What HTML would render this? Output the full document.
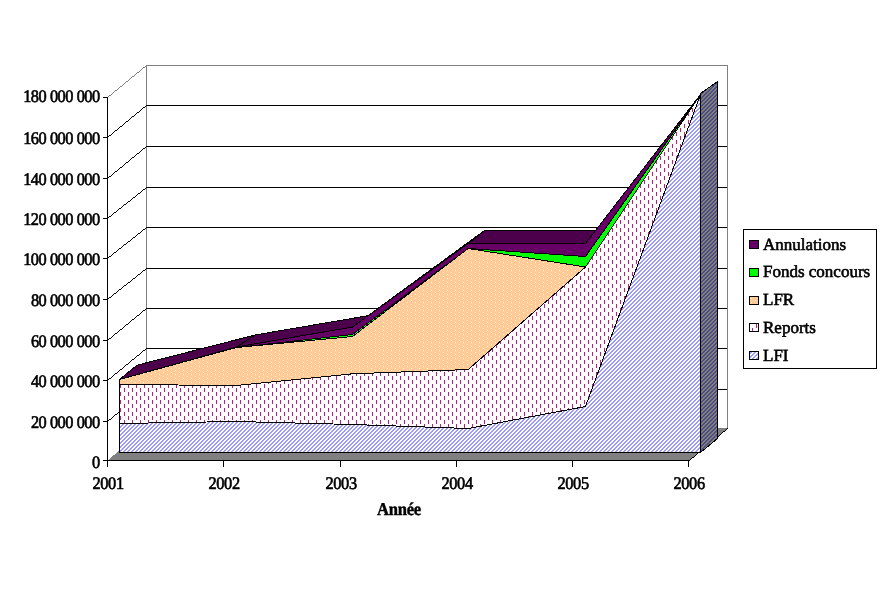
<!DOCTYPE html>
<html><head><meta charset="utf-8"><style>
html,body{margin:0;padding:0;background:#fff;}
body{width:888px;height:596px;overflow:hidden;position:relative;}
svg{position:absolute;left:0;top:0;}
.t{font-family:"Liberation Serif",serif;text-rendering:geometricPrecision;font-size:17.5px;fill:#000;stroke:#000;stroke-width:0.45px;}
.tx{will-change:transform;}
</style></head><body>
<svg width="888" height="596" viewBox="0 0 888 596" shape-rendering="crispEdges">
<defs>
<pattern id="pLFI" width="4" height="4" patternUnits="userSpaceOnUse">
<rect width="4" height="4" fill="#fff"/>
<path d="M2,0h2v1h-2zM1,1h2v1h-2zM0,2h2v1h-2zM0,3h1v1h-1zM3,3h1v1h-1z" fill="#9999ff"/>
</pattern>
<pattern id="pLFIs" width="4" height="4" patternUnits="userSpaceOnUse">
<rect width="4" height="4" fill="#808080"/>
<path d="M2,0h2v1h-2zM1,1h2v1h-2zM0,2h2v1h-2zM0,3h1v1h-1zM3,3h1v1h-1z" fill="#4c4c80"/>
</pattern>
<pattern id="pREP" width="8" height="8" patternUnits="userSpaceOnUse">
<rect width="8" height="8" fill="#fff"/>
<rect x="0" y="0" width="1" height="4" fill="#993366"/>
<rect x="4" y="4" width="1" height="4" fill="#993366"/>
</pattern>
<pattern id="pLFR" width="8" height="4" patternUnits="userSpaceOnUse">
<rect width="8" height="4" fill="#ffcc99"/>
<rect x="3" y="0" width="1" height="1" fill="#fff"/>
<rect x="7" y="2" width="1" height="1" fill="#fff"/>
</pattern>
</defs>

<rect x="146" y="65" width="581" height="364" fill="#fff"/>
<line x1="146" y1="389.5" x2="728" y2="389.5" stroke="#000"/>
<line x1="146" y1="348.5" x2="728" y2="348.5" stroke="#000"/>
<line x1="146" y1="308.5" x2="728" y2="308.5" stroke="#000"/>
<line x1="146" y1="268.5" x2="728" y2="268.5" stroke="#000"/>
<line x1="146" y1="227.5" x2="728" y2="227.5" stroke="#000"/>
<line x1="146" y1="187.5" x2="728" y2="187.5" stroke="#000"/>
<line x1="146" y1="146.5" x2="728" y2="146.5" stroke="#000"/>
<line x1="146" y1="105.5" x2="728" y2="105.5" stroke="#000"/>
<line x1="146.5" y1="65" x2="146.5" y2="428" stroke="#808080"/>
<line x1="727.5" y1="65" x2="727.5" y2="428" stroke="#808080"/>
<line x1="146" y1="65.5" x2="728" y2="65.5" stroke="#808080"/>
<path d="M107,421h1v1h-1zM108,420h1v1h-1zM109,419h2v1h-2zM111,418h1v1h-1zM112,417h1v1h-1zM113,416h1v1h-1zM114,415h1v1h-1zM115,414h2v1h-2zM117,413h1v1h-1zM118,412h1v1h-1zM119,411h1v1h-1zM120,410h2v1h-2zM122,409h1v1h-1zM123,408h1v1h-1zM124,407h1v1h-1zM125,406h1v1h-1zM126,405h2v1h-2zM128,404h1v1h-1zM129,403h1v1h-1zM130,402h1v1h-1zM131,401h1v1h-1zM132,400h2v1h-2zM134,399h1v1h-1zM135,398h1v1h-1zM136,397h1v1h-1zM137,396h2v1h-2zM139,395h1v1h-1zM140,394h1v1h-1zM141,393h1v1h-1zM142,392h1v1h-1zM143,391h2v1h-2zM145,390h1v1h-1zM146,389h1v1h-1z" fill="#000"/>
<path d="M107,380h1v1h-1zM108,379h1v1h-1zM109,378h2v1h-2zM111,377h1v1h-1zM112,376h1v1h-1zM113,375h1v1h-1zM114,374h1v1h-1zM115,373h2v1h-2zM117,372h1v1h-1zM118,371h1v1h-1zM119,370h1v1h-1zM120,369h2v1h-2zM122,368h1v1h-1zM123,367h1v1h-1zM124,366h1v1h-1zM125,365h1v1h-1zM126,364h2v1h-2zM128,363h1v1h-1zM129,362h1v1h-1zM130,361h1v1h-1zM131,360h1v1h-1zM132,359h2v1h-2zM134,358h1v1h-1zM135,357h1v1h-1zM136,356h1v1h-1zM137,355h2v1h-2zM139,354h1v1h-1zM140,353h1v1h-1zM141,352h1v1h-1zM142,351h1v1h-1zM143,350h2v1h-2zM145,349h1v1h-1zM146,348h1v1h-1z" fill="#000"/>
<path d="M107,340h1v1h-1zM108,339h1v1h-1zM109,338h2v1h-2zM111,337h1v1h-1zM112,336h1v1h-1zM113,335h1v1h-1zM114,334h1v1h-1zM115,333h2v1h-2zM117,332h1v1h-1zM118,331h1v1h-1zM119,330h1v1h-1zM120,329h2v1h-2zM122,328h1v1h-1zM123,327h1v1h-1zM124,326h1v1h-1zM125,325h1v1h-1zM126,324h2v1h-2zM128,323h1v1h-1zM129,322h1v1h-1zM130,321h1v1h-1zM131,320h1v1h-1zM132,319h2v1h-2zM134,318h1v1h-1zM135,317h1v1h-1zM136,316h1v1h-1zM137,315h2v1h-2zM139,314h1v1h-1zM140,313h1v1h-1zM141,312h1v1h-1zM142,311h1v1h-1zM143,310h2v1h-2zM145,309h1v1h-1zM146,308h1v1h-1z" fill="#000"/>
<path d="M107,299h1v1h-1zM108,298h1v1h-1zM109,297h2v1h-2zM111,296h1v1h-1zM112,295h1v1h-1zM113,294h1v1h-1zM114,293h2v1h-2zM116,292h1v1h-1zM117,291h1v1h-1zM118,290h1v1h-1zM119,289h2v1h-2zM121,288h1v1h-1zM122,287h1v1h-1zM123,286h1v1h-1zM124,285h2v1h-2zM126,284h1v1h-1zM127,283h1v1h-1zM128,282h2v1h-2zM130,281h1v1h-1zM131,280h1v1h-1zM132,279h1v1h-1zM133,278h2v1h-2zM135,277h1v1h-1zM136,276h1v1h-1zM137,275h1v1h-1zM138,274h2v1h-2zM140,273h1v1h-1zM141,272h1v1h-1zM142,271h1v1h-1zM143,270h2v1h-2zM145,269h1v1h-1zM146,268h1v1h-1z" fill="#000"/>
<path d="M107,258h1v1h-1zM108,257h1v1h-1zM109,256h2v1h-2zM111,255h1v1h-1zM112,254h1v1h-1zM113,253h1v1h-1zM114,252h2v1h-2zM116,251h1v1h-1zM117,250h1v1h-1zM118,249h1v1h-1zM119,248h2v1h-2zM121,247h1v1h-1zM122,246h1v1h-1zM123,245h1v1h-1zM124,244h2v1h-2zM126,243h1v1h-1zM127,242h1v1h-1zM128,241h2v1h-2zM130,240h1v1h-1zM131,239h1v1h-1zM132,238h1v1h-1zM133,237h2v1h-2zM135,236h1v1h-1zM136,235h1v1h-1zM137,234h1v1h-1zM138,233h2v1h-2zM140,232h1v1h-1zM141,231h1v1h-1zM142,230h1v1h-1zM143,229h2v1h-2zM145,228h1v1h-1zM146,227h1v1h-1z" fill="#000"/>
<path d="M107,218h1v1h-1zM108,217h1v1h-1zM109,216h2v1h-2zM111,215h1v1h-1zM112,214h1v1h-1zM113,213h1v1h-1zM114,212h2v1h-2zM116,211h1v1h-1zM117,210h1v1h-1zM118,209h1v1h-1zM119,208h2v1h-2zM121,207h1v1h-1zM122,206h1v1h-1zM123,205h1v1h-1zM124,204h2v1h-2zM126,203h1v1h-1zM127,202h1v1h-1zM128,201h2v1h-2zM130,200h1v1h-1zM131,199h1v1h-1zM132,198h1v1h-1zM133,197h2v1h-2zM135,196h1v1h-1zM136,195h1v1h-1zM137,194h1v1h-1zM138,193h2v1h-2zM140,192h1v1h-1zM141,191h1v1h-1zM142,190h1v1h-1zM143,189h2v1h-2zM145,188h1v1h-1zM146,187h1v1h-1z" fill="#000"/>
<path d="M107,178h1v1h-1zM108,177h1v1h-1zM109,176h2v1h-2zM111,175h1v1h-1zM112,174h1v1h-1zM113,173h1v1h-1zM114,172h1v1h-1zM115,171h2v1h-2zM117,170h1v1h-1zM118,169h1v1h-1zM119,168h1v1h-1zM120,167h2v1h-2zM122,166h1v1h-1zM123,165h1v1h-1zM124,164h1v1h-1zM125,163h1v1h-1zM126,162h2v1h-2zM128,161h1v1h-1zM129,160h1v1h-1zM130,159h1v1h-1zM131,158h1v1h-1zM132,157h2v1h-2zM134,156h1v1h-1zM135,155h1v1h-1zM136,154h1v1h-1zM137,153h2v1h-2zM139,152h1v1h-1zM140,151h1v1h-1zM141,150h1v1h-1zM142,149h1v1h-1zM143,148h2v1h-2zM145,147h1v1h-1zM146,146h1v1h-1z" fill="#000"/>
<path d="M107,137h1v1h-1zM108,136h1v1h-1zM109,135h2v1h-2zM111,134h1v1h-1zM112,133h1v1h-1zM113,132h1v1h-1zM114,131h1v1h-1zM115,130h2v1h-2zM117,129h1v1h-1zM118,128h1v1h-1zM119,127h1v1h-1zM120,126h2v1h-2zM122,125h1v1h-1zM123,124h1v1h-1zM124,123h1v1h-1zM125,122h1v1h-1zM126,121h2v1h-2zM128,120h1v1h-1zM129,119h1v1h-1zM130,118h1v1h-1zM131,117h1v1h-1zM132,116h2v1h-2zM134,115h1v1h-1zM135,114h1v1h-1zM136,113h1v1h-1zM137,112h2v1h-2zM139,111h1v1h-1zM140,110h1v1h-1zM141,109h1v1h-1zM142,108h1v1h-1zM143,107h2v1h-2zM145,106h1v1h-1zM146,105h1v1h-1z" fill="#000"/>
<path d="M107,97h1v1h-1zM108,96h1v1h-1zM109,95h2v1h-2zM111,94h1v1h-1zM112,93h1v1h-1zM113,92h1v1h-1zM114,91h1v1h-1zM115,90h2v1h-2zM117,89h1v1h-1zM118,88h1v1h-1zM119,87h1v1h-1zM120,86h2v1h-2zM122,85h1v1h-1zM123,84h1v1h-1zM124,83h1v1h-1zM125,82h1v1h-1zM126,81h2v1h-2zM128,80h1v1h-1zM129,79h1v1h-1zM130,78h1v1h-1zM131,77h1v1h-1zM132,76h2v1h-2zM134,75h1v1h-1zM135,74h1v1h-1zM136,73h1v1h-1zM137,72h2v1h-2zM139,71h1v1h-1zM140,70h1v1h-1zM141,69h1v1h-1zM142,68h1v1h-1zM143,67h2v1h-2zM145,66h1v1h-1zM146,65h1v1h-1z" fill="#808080"/>
<polygon points="107.50,460.50 689.50,460.50 728.00,428.00 146.50,428.00" fill="#808080"/>
<path d="M689,460h1v1h-1zM690,459h1v1h-1zM691,458h1v1h-1zM692,457h2v1h-2zM694,456h1v1h-1zM695,455h1v1h-1zM696,454h1v1h-1zM697,453h1v1h-1zM698,452h2v1h-2zM700,451h1v1h-1zM701,450h1v1h-1zM702,449h1v1h-1zM703,448h1v1h-1zM704,447h2v1h-2zM706,446h1v1h-1zM707,445h1v1h-1zM708,444h1v1h-1zM709,443h1v1h-1zM710,442h1v1h-1zM711,441h2v1h-2zM713,440h1v1h-1zM714,439h1v1h-1zM715,438h1v1h-1zM716,437h1v1h-1zM717,436h2v1h-2zM719,435h1v1h-1zM720,434h1v1h-1zM721,433h1v1h-1zM722,432h1v1h-1zM723,431h2v1h-2zM725,430h1v1h-1zM726,429h1v1h-1zM727,428h1v1h-1z" fill="#000"/>
<polygon points="119.50,379.50 236.50,347.00 255.00,335.00 137.00,365.20" fill="#4c004c" stroke="#000" stroke-width="1"/>
<polygon points="236.50,347.00 352.50,327.00 368.00,315.70 255.00,335.00" fill="#4c004c" stroke="#000" stroke-width="1"/>
<polygon points="352.50,327.00 468.20,243.50 484.50,230.50 368.00,315.70" fill="#660066" stroke="#000" stroke-width="1"/>
<polygon points="468.20,243.50 585.50,243.50 601.00,230.50 484.50,230.50" fill="#4c004c" stroke="#000" stroke-width="1"/>
<polygon points="585.50,243.50 700.50,94.50 717.50,81.50 601.00,230.50" fill="#4c004c" stroke="#000" stroke-width="1"/>
<polygon points="700.50,452.50 700.50,93.50 717.50,81.50 717.50,438.50" fill="url(#pLFIs)" stroke="#000" stroke-width="1"/>
<polygon points="119.50,452.50 236.50,452.50 352.50,452.50 468.20,452.50 585.50,452.50 700.50,452.50 700.50,94.50 585.50,406.50 468.20,428.50 352.50,424.50 236.50,421.50 119.50,423.50" fill="url(#pLFI)" stroke="#000" stroke-width="1" stroke-linejoin="miter"/>
<polygon points="119.50,423.50 236.50,421.50 352.50,424.50 468.20,428.50 585.50,406.50 700.50,94.50 700.50,94.50 585.50,267.00 468.20,369.50 352.50,373.80 236.50,385.50 119.50,384.50" fill="url(#pREP)" stroke="#000" stroke-width="1" stroke-linejoin="miter"/>
<polygon points="119.50,384.50 236.50,385.50 352.50,373.80 468.20,369.50 585.50,267.00 700.50,94.50 700.50,94.50 585.50,267.00 468.20,248.50 352.50,336.50 236.50,347.50 119.50,379.50" fill="url(#pLFR)" stroke="#000" stroke-width="1" stroke-linejoin="miter"/>
<polygon points="119.50,379.50 236.50,347.50 352.50,336.50 468.20,248.50 585.50,267.00 700.50,94.50 700.50,94.50 585.50,256.50 468.20,248.50 352.50,334.50 236.50,347.50 119.50,379.50" fill="#00ff00" stroke="#000" stroke-width="1" stroke-linejoin="miter"/>
<polygon points="119.50,379.50 236.50,347.50 352.50,334.50 468.20,248.50 585.50,256.50 700.50,94.50 700.50,94.50 585.50,243.50 468.20,243.50 352.50,327.00 236.50,347.00 119.50,379.50" fill="#660066" stroke="#000" stroke-width="1" stroke-linejoin="miter"/>
<line x1="107.5" y1="97" x2="107.5" y2="467" stroke="#000"/>
<line x1="103" y1="460.5" x2="689" y2="460.5" stroke="#000"/>
<line x1="103" y1="460.5" x2="107" y2="460.5" stroke="#000"/>
<line x1="103" y1="421.5" x2="107" y2="421.5" stroke="#000"/>
<line x1="103" y1="380.5" x2="107" y2="380.5" stroke="#000"/>
<line x1="103" y1="340.5" x2="107" y2="340.5" stroke="#000"/>
<line x1="103" y1="299.5" x2="107" y2="299.5" stroke="#000"/>
<line x1="103" y1="258.5" x2="107" y2="258.5" stroke="#000"/>
<line x1="103" y1="218.5" x2="107" y2="218.5" stroke="#000"/>
<line x1="103" y1="178.5" x2="107" y2="178.5" stroke="#000"/>
<line x1="103" y1="137.5" x2="107" y2="137.5" stroke="#000"/>
<line x1="103" y1="97.5" x2="107" y2="97.5" stroke="#000"/>
<line x1="107.5" y1="460" x2="107.5" y2="467" stroke="#000"/>
<line x1="223.5" y1="460" x2="223.5" y2="467" stroke="#000"/>
<line x1="340.5" y1="460" x2="340.5" y2="467" stroke="#000"/>
<line x1="456.5" y1="460" x2="456.5" y2="467" stroke="#000"/>
<line x1="572.5" y1="460" x2="572.5" y2="467" stroke="#000"/>
<line x1="688.5" y1="460" x2="688.5" y2="467" stroke="#000"/>
<g class="tx" shape-rendering="auto">
<text class="t" transform="translate(99.76,467.50) scale(0.92,1.0)" text-anchor="end" letter-spacing="-0.50" style="font-size:17.75px;stroke-width:0.65px">0</text>
<text class="t" transform="translate(99.76,427.50) scale(0.92,1.0)" text-anchor="end" letter-spacing="-0.50" style="font-size:17.75px;stroke-width:0.65px">20 000 000</text>
<text class="t" transform="translate(99.76,386.50) scale(0.92,1.0)" text-anchor="end" letter-spacing="-0.50" style="font-size:17.75px;stroke-width:0.65px">40 000 000</text>
<text class="t" transform="translate(99.76,346.50) scale(0.92,1.0)" text-anchor="end" letter-spacing="-0.50" style="font-size:17.75px;stroke-width:0.65px">60 000 000</text>
<text class="t" transform="translate(99.76,305.50) scale(0.92,1.0)" text-anchor="end" letter-spacing="-0.50" style="font-size:17.75px;stroke-width:0.65px">80 000 000</text>
<text class="t" transform="translate(99.76,264.50) scale(0.92,1.0)" text-anchor="end" letter-spacing="-0.50" style="font-size:17.75px;stroke-width:0.65px">100 000 000</text>
<text class="t" transform="translate(99.76,224.50) scale(0.92,1.0)" text-anchor="end" letter-spacing="-0.50" style="font-size:17.75px;stroke-width:0.65px">120 000 000</text>
<text class="t" transform="translate(99.76,184.50) scale(0.92,1.0)" text-anchor="end" letter-spacing="-0.50" style="font-size:17.75px;stroke-width:0.65px">140 000 000</text>
<text class="t" transform="translate(99.76,143.50) scale(0.92,1.0)" text-anchor="end" letter-spacing="-0.50" style="font-size:17.75px;stroke-width:0.65px">160 000 000</text>
<text class="t" transform="translate(99.76,102.00) scale(0.92,1.0)" text-anchor="end" letter-spacing="-0.50" style="font-size:17.75px;stroke-width:0.65px">180 000 000</text>
<text class="t" transform="translate(108.06,488.5) scale(0.92,1.0)" text-anchor="middle" letter-spacing="-0.35" style="font-size:17.75px;stroke-width:0.65px">2001</text>
<text class="t" transform="translate(224.06,488.5) scale(0.92,1.0)" text-anchor="middle" letter-spacing="-0.35" style="font-size:17.75px;stroke-width:0.65px">2002</text>
<text class="t" transform="translate(341.06,488.5) scale(0.92,1.0)" text-anchor="middle" letter-spacing="-0.35" style="font-size:17.75px;stroke-width:0.65px">2003</text>
<text class="t" transform="translate(457.06,488.5) scale(0.92,1.0)" text-anchor="middle" letter-spacing="-0.35" style="font-size:17.75px;stroke-width:0.65px">2004</text>
<text class="t" transform="translate(573.06,488.5) scale(0.92,1.0)" text-anchor="middle" letter-spacing="-0.35" style="font-size:17.75px;stroke-width:0.65px">2005</text>
<text class="t" transform="translate(689.06,488.5) scale(0.92,1.0)" text-anchor="middle" letter-spacing="-0.35" style="font-size:17.75px;stroke-width:0.65px">2006</text>
<text class="t" transform="translate(399.00,515.3) scale(0.95,1.03)" text-anchor="middle" font-weight="bold" letter-spacing="-0.30">Ann&#233;e</text>
</g>
<rect x="743.5" y="229.5" width="133" height="139" fill="#fff" stroke="#000"/>
<g class="tx" shape-rendering="auto">
<text class="t" transform="translate(763,249.50) scale(1,1)" style="font-size:17px;stroke-width:0.6px" letter-spacing="0">Annulations</text>
<text class="t" transform="translate(763,277.30) scale(1,1)" style="font-size:17px;stroke-width:0.6px" letter-spacing="0">Fonds concours</text>
<text class="t" transform="translate(763,305.10) scale(1,1)" style="font-size:17px;stroke-width:0.6px" letter-spacing="0">LFR</text>
<text class="t" transform="translate(763,332.90) scale(1,1)" style="font-size:17px;stroke-width:0.6px" letter-spacing="0">Reports</text>
<text class="t" transform="translate(763,360.70) scale(1,1)" style="font-size:17px;stroke-width:0.6px" letter-spacing="0">LFI</text>
</g>
<rect x="749.5" y="240.5" width="9" height="8" fill="#660066" stroke="#000"/>
<rect x="749.5" y="268.5" width="9" height="8" fill="#00ff00" stroke="#000"/>
<rect x="749.5" y="296.5" width="9" height="8" fill="url(#pLFR)" stroke="#000"/>
<rect x="749.5" y="323.5" width="9" height="8" fill="url(#pREP)" stroke="#000"/>
<rect x="749.5" y="351.5" width="9" height="8" fill="url(#pLFI)" stroke="#000"/>
</svg>
</body></html>
